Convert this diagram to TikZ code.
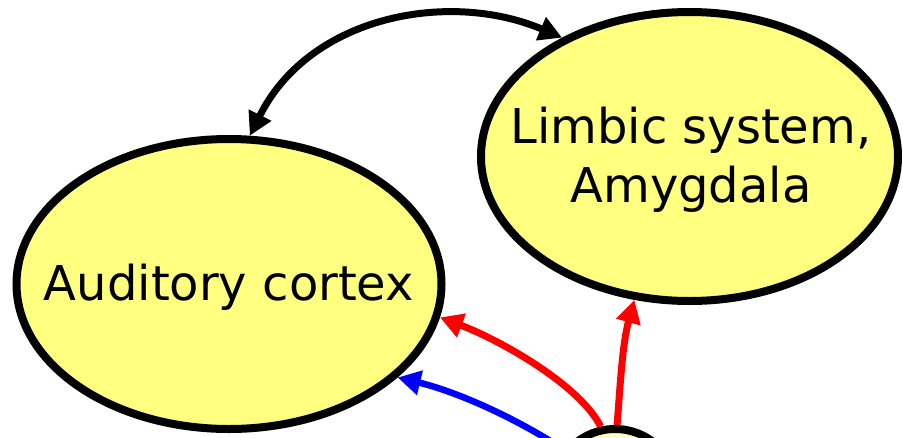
\documentclass[tikz,border=0pt]{standalone}
\usepackage{fontspec}
\setmainfont{DejaVu Sans}
\usetikzlibrary{arrows.meta,shapes.geometric}
\definecolor{yfill}{RGB}{255,255,128}
\definecolor{yfillpale}{RGB}{255,255,190}
\definecolor{redarr}{RGB}{255,0,0}
\definecolor{bluearr}{RGB}{0,0,255}
\tikzset{
  region/.style={ellipse, draw=black, line width=8pt, fill=yfill, inner sep=0pt},
  lbl/.style={inner sep=0pt, font=\fontsize{48}{59}\selectfont, align=center},
  conn/.style={line width=7pt, -{Triangle[length=23pt,width=24pt]}},
  dconn/.style={line width=7pt, {Triangle[length=23pt,width=24pt]}-{Triangle[length=23pt,width=24pt]}},
}
\begin{document}
\begin{tikzpicture}[x=1pt,y=-1pt]
\useasboundingbox (0,0) rectangle (903,437);
\clip (0,0) rectangle (903,437);
\node[region, minimum width=425pt, minimum height=290pt] (aud) at (229,284) {};
\node[region, minimum width=417pt, minimum height=289pt] (lim) at (689.5,156.5) {};
\node[region, fill=yfillpale, minimum width=118pt, minimum height=110pt] (sm) at (615,484) {};
\node[lbl, anchor=base] (audt) at (229,300) {Auditory cortex};
\node[lbl, text height=36pt, text depth=11pt] (limt) at (691,190) {Limbic system,\\Amygdala};
\coordinate (bt) at (560,447);
\draw[dconn] (aud.82) .. controls (310,15) and (450,-10) .. (lim.137);
\draw[conn, draw=redarr] (sm.104) .. controls (580,385) and (500,340) .. (aud.-9);
\draw[conn, draw=redarr] (sm.88) .. controls (620,390) and (622,345) .. (lim.-111);
\draw[conn, draw=bluearr, line width=6.5pt] (bt) .. controls (505,412) and (450,390) .. (aud.-29);
\end{tikzpicture}
\end{document}
